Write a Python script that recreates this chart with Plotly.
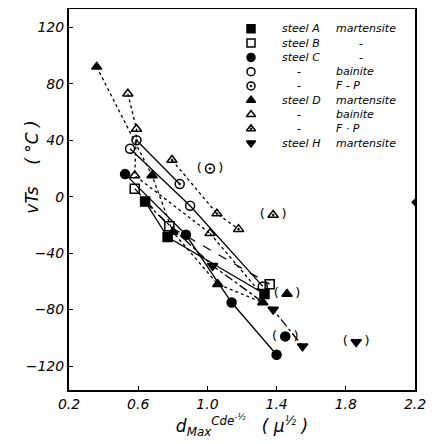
import plotly.graph_objects as go

# ---- data ----
A_m_x = [0.64, 0.77, 1.33]
A_m_y = [-3.5, -28.6, -69]
B_m_x = [0.58, 0.78, 1.36]
B_m_y = [5.7, -21, -62]
C_m_x = [0.524, 0.876, 1.14, 1.40]
C_m_y = [16, -27, -75, -112]
C_b_x = [0.553, 0.90, 1.32]
C_b_y = [34, -6.4, -63.6]
C_fp_x = [0.59, 0.84]
C_fp_y = [40, 9]
D_m_x = [0.36, 0.68, 0.80, 1.06, 1.32]
D_m_y = [92, 15, -25, -62, -75]
D_b_x = [0.54, 0.59, 0.58, 1.015]
D_b_y = [73, 48, 15, -26]
D_fp_x = [0.795, 1.055, 1.18]
D_fp_y = [26, -12, -23]
H_m_x = [1.03, 1.38, 1.55]
H_m_y = [-49, -80, -106]

# extra connecting lines
H_line_x = [0.64, 1.03, 1.38, 1.55]
H_line_y = [-4, -49, -80, -106]
Db_tail_x = [1.015, 1.32]
Db_tail_y = [-26, -70]

# parenthesised (excluded) points
par_C_m = (1.45, -99)
par_C_fp = (1.015, 20)
par_D_m = (1.46, -69)
par_D_fp = (1.38, -13)
par_H_m = (1.86, -103)

edge_x = [2.2]
edge_y = [-4]

x_ticks = [0.2, 0.6, 1.0, 1.4, 1.8, 2.2]
y_ticks = [120, 80, 40, 0, -40, -80, -120]

# legend content
leg_symbols = ["square", "square-open", "circle", "circle-open", "circle-open-dot",
               "triangle-up", "triangle-up-open", "triangle-up-open-dot", "triangle-down"]
leg_steel = ["steel A", "steel B", "steel C", "-", "-", "steel D", "-", "-", "steel H"]
leg_struct = ["martensite", "-", "-", "bainite", "F - P", "martensite", "bainite", "F · P", "martensite"]

FONT = "DejaVu Sans"
fig = go.Figure()

def line(x, y, dash, w=1.3):
    fig.add_trace(go.Scatter(x=x, y=y, mode="lines", showlegend=False,
                             line=dict(color="black", width=w, dash=dash), hoverinfo="skip"))

line(C_m_x, C_m_y, "solid")
line(C_b_x, C_b_y, "solid")
line(C_fp_x, C_fp_y, "solid")
line(A_m_x, A_m_y, "solid")
line(B_m_x, B_m_y, "dash")
line(H_line_x, H_line_y, "dashdot")
line(D_m_x, D_m_y, "dot")
line(D_b_x, D_b_y, "dot")
line(Db_tail_x, Db_tail_y, "dot")
line(D_fp_x, D_fp_y, "dot")

# parentheses around excluded points
pars = [par_C_m, par_C_fp, par_D_m, par_D_fp, par_H_m]
nb = "\u00a0"
fig.add_trace(go.Scatter(x=[p[0] for p in pars], y=[p[1] for p in pars], mode="text",
                         text=["(" + nb*4 + ")"] * len(pars), showlegend=False,
                         textfont=dict(family=FONT, size=13, color="black"), hoverinfo="skip"))

S = 9
def pts(x, y, sym):
    fig.add_trace(go.Scatter(x=x, y=y, mode="markers", showlegend=False,
                             marker=dict(symbol=sym, size=S, color="black",
                                         line=dict(color="black", width=1.5))))

pts(A_m_x, A_m_y, leg_symbols[0])
pts(B_m_x, B_m_y, leg_symbols[1])
pts(C_m_x + [par_C_m[0]], C_m_y + [par_C_m[1]], leg_symbols[2])
pts(C_b_x, C_b_y, leg_symbols[3])
pts(C_fp_x + [par_C_fp[0]], C_fp_y + [par_C_fp[1]], leg_symbols[4])
pts(D_m_x + [par_D_m[0]], D_m_y + [par_D_m[1]], leg_symbols[5])
pts(D_b_x, D_b_y, leg_symbols[6])
pts(D_fp_x + [par_D_fp[0]], D_fp_y + [par_D_fp[1]], leg_symbols[7])
pts(H_m_x + [par_H_m[0]], H_m_y + [par_H_m[1]], leg_symbols[8])

fig.add_trace(go.Scatter(x=edge_x, y=edge_y, mode="markers", showlegend=False,
                         marker=dict(symbol="diamond", size=6, color="black")))

# ---- custom legend (inset key) on an overlay axis in [0,1] ----
n = len(leg_symbols)
top, gap = 0.948, 0.0375
rows = [top - i * gap for i in range(n)]
fig.add_trace(go.Scatter(x=[0.526] * n, y=rows, mode="markers", showlegend=False,
                         xaxis="x2", yaxis="y2", hoverinfo="skip",
                         marker=dict(symbol=leg_symbols, size=8, color="black",
                                     line=dict(color="black", width=1.5))))
for yy, s1, s2 in zip(rows, leg_steel, leg_struct):
    fig.add_annotation(x=(0.665 if s1 == "-" else 0.61), y=yy, xref="paper", yref="paper",
                       text=s1, showarrow=False, xanchor=("center" if s1 == "-" else "left"),
                       yanchor="middle",
                       font=dict(family=FONT, size=11, color="black", style="italic"))
    fig.add_annotation(x=(0.845 if s2 == "-" else 0.765), y=yy, xref="paper", yref="paper",
                       text=s2, showarrow=False, xanchor=("center" if s2 == "-" else "left"),
                       yanchor="middle",
                       font=dict(family=FONT, size=11, color="black", style="italic"))

# y axis title (placed slightly above centre as in the original)
fig.add_annotation(x=-0.14, y=0.585, xref="paper", yref="paper", textangle=-90,
                   text="vTs" + nb*4 + "( °C )", showarrow=False,
                   font=dict(family=FONT, size=17, color="black", style="italic"))

axis_common = dict(showgrid=False, zeroline=False, showline=True, linecolor="black",
                   linewidth=2, mirror=True, ticks="inside", ticklen=4, tickcolor="black",
                   automargin=False,
                   tickfont=dict(family=FONT, size=14, color="black", style="italic"))

fig.update_layout(
    width=430, height=436,
    margin=dict(l=61, r=23, t=1, b=54),
    paper_bgcolor="white", plot_bgcolor="white",
    xaxis=dict(range=[0.2, 2.2], tickvals=x_ticks, ticktext=[f"{v:.1f}" for v in x_ticks],
               title=dict(text="d<sub>Max</sub><sup>Cde<sup>-½</sup></sup>" + nb*3 + "( μ<sup>½</sup> )",
                          font=dict(family=FONT, size=17, color="black", style="italic"),
                          standoff=0),
               **axis_common),
    yaxis=dict(range=[-137, 133], tickvals=y_ticks, **axis_common),
    xaxis2=dict(range=[0, 1], overlaying="x", visible=False, fixedrange=True),
    yaxis2=dict(range=[0, 1], overlaying="y", visible=False, fixedrange=True),
    showlegend=False,
)

fig.write_html("out.html")
